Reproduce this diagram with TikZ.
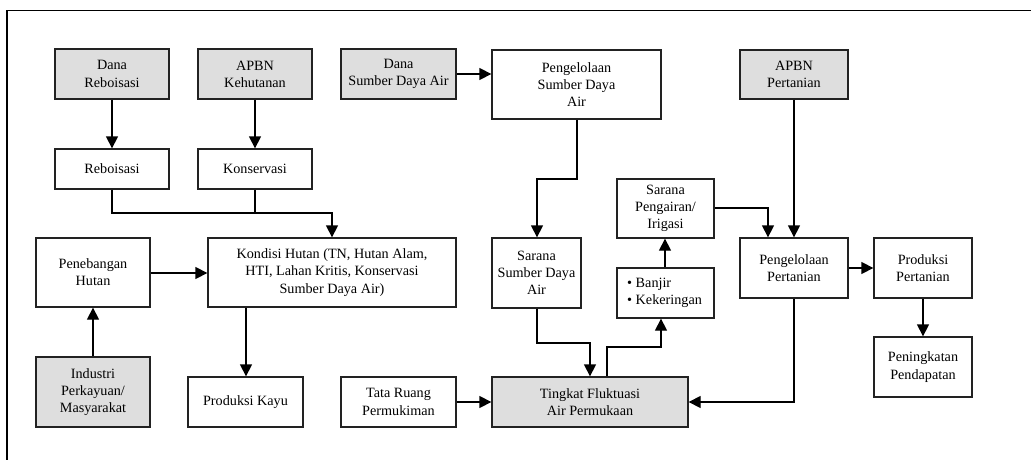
\documentclass[tikz,border=0pt]{standalone}
\usepackage{fontspec}
\setmainfont{Liberation Serif}
\usetikzlibrary{arrows.meta,calc}
\definecolor{boxgray}{HTML}{DEDEDE}
\definecolor{linec}{HTML}{222222}
\begin{document}
\begin{tikzpicture}[x=1pt,y=-1pt,
  font=\fontsize{14.2}{17.2}\selectfont,
  box/.style={draw=linec,line width=1.3pt,rectangle,inner sep=0pt,align=center,fill=white},
  gbox/.style={box,fill=boxgray},
  arr/.style={draw=black,line width=1.3pt,-{Triangle[length=12pt,width=12pt]}},
  ln/.style={draw=black,line width=1.3pt}]
\useasboundingbox (0,0) rectangle (1031,460);
\draw[line width=1.2pt] (7,460) -- (7,10.5) -- (1031,10.5);
% nodes
\node[gbox,minimum width=114pt,minimum height=50pt] (danaReb) at (112,74) {Dana\\Reboisasi};
\node[gbox,minimum width=114pt,minimum height=50pt] (apbnKeh) at (255,74) {APBN\\Kehutanan};
\node[gbox,minimum width=115pt,minimum height=50pt] (danaSDA) at (398.5,74) {Dana\\Sumber Daya Air};
\node[box,minimum width=169pt,minimum height=69pt] (pengSDA) at (576.5,84.5) {Pengelolaan\\Sumber Daya\\Air};
\node[gbox,minimum width=108pt,minimum height=49pt] (apbnPert) at (794,74.5) {APBN\\Pertanian};
\node[box,minimum width=114pt,minimum height=40pt] (reb) at (112,169) {Reboisasi};
\node[box,minimum width=114pt,minimum height=40pt] (kons) at (255,169) {Konservasi};
\node[box,minimum width=97pt,minimum height=59pt] (irig) at (665.5,208.5) {Sarana\\Pengairan/\\Irigasi};
\node[box,minimum width=114pt,minimum height=69pt] (peneb) at (93,272.5) {Penebangan\\Hutan};
\node[box,minimum width=248pt,minimum height=69pt] (kondisi) at (332,272.5) {Kondisi Hutan (TN, Hutan Alam,\\HTI, Lahan Kritis, Konservasi\\Sumber Daya Air)};
\node[box,minimum width=89pt,minimum height=70pt] (saranaSDA) at (536.5,273) {Sarana\\Sumber Daya\\Air};
\node[box,minimum width=97pt,minimum height=50pt] (banjir) at (665.5,293) {};
\node[anchor=west,align=left,inner sep=0pt] (banjirtxt) at (627,293) {• Banjir\\• Kekeringan};
\node[box,minimum width=108pt,minimum height=60pt] (pengPert) at (794,268) {Pengelolaan\\Pertanian};
\node[box,minimum width=98pt,minimum height=60pt] (prodPert) at (923,268) {Produksi\\Pertanian};
\node[box,minimum width=98pt,minimum height=60pt] (pening) at (923,367) {Peningkatan\\Pendapatan};
\node[gbox,minimum width=114pt,minimum height=70pt] (industri) at (93,392) {Industri\\Perkayuan/\\Masyarakat};
\node[box,minimum width=115pt,minimum height=50pt] (prodKayu) at (245.5,402) {Produksi Kayu};
\node[box,minimum width=115pt,minimum height=50pt] (tata) at (398.5,402) {Tata Ruang\\Permukiman};
\node[gbox,minimum width=196pt,minimum height=50pt] (tingkat) at (590,402) {Tingkat Fluktuasi\\Air Permukaan};
% helper coordinates
\coordinate (j1) at (112,213);
\coordinate (j2) at (577,179);
\coordinate (j3) at (537,343);
\coordinate (j4) at (607,347);
\coordinate (j5) at (768,208);
\coordinate (j6) at (794,402);
\coordinate (j7) at (246,0);
\coordinate (j8) at (665,0);
% connectors
\draw[arr] (danaReb) -- (reb);
\draw[arr] (apbnKeh) -- (kons);
\draw[arr] (reb.south) -- (j1) -| (kondisi.north);
\draw[ln] (kons.south) -- (kons.south |- j1);
\draw[arr] (peneb.east |- 0,273) -- (kondisi.west |- 0,273);
\draw[arr] (industri) -- (peneb);
\draw[arr] (kondisi.south -| j7) -- (prodKayu.north -| j7);
\draw[arr] (danaSDA.east) -- (danaSDA.east -| pengSDA.west);
\draw[arr] (pengSDA.south -| j2) -- (j2) -| (saranaSDA.north -| j3);
\draw[arr] (saranaSDA.south -| j3) -- (j3) -| (tingkat.north);
\draw[arr] (tingkat.north -| j4) -- (j4) -| (banjir.south -| 661,0);
\draw[arr] (banjir.north -| j8) -- (irig.south -| j8);
\draw[arr] (irig.east |- j5) -- (j5) -- (pengPert.north -| j5);
\draw[arr] (apbnPert) -- (pengPert);
\draw[arr] (pengPert.south -| j6) -- (j6) -- (tingkat.east |- j6);
\draw[arr] (tata) -- (tingkat);
\draw[arr] (pengPert) -- (prodPert);
\draw[arr] (prodPert) -- (pening);
\end{tikzpicture}
\end{document}
